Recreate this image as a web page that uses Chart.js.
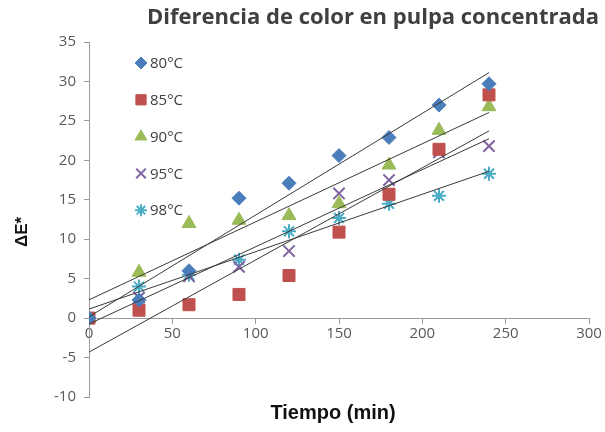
<!DOCTYPE html>
<html>
<head>
<meta charset="utf-8">
<script src="https://cdn.jsdelivr.net/npm/chart.js@4.4.1/dist/chart.umd.min.js"></script>
<style>
  html, body { margin: 0; padding: 0; background: #ffffff; }
  #wrap { position: relative; width: 605px; height: 432px; }
</style>
</head>
<body>
<div id="wrap"><canvas id="c" width="605" height="432"></canvas></div>
<script>
// ---- Data ----
const tiempos = [0, 30, 60, 90, 120, 150, 180, 210, 240];
const serie80 = [0, 2.3, 6.0, 15.2, 17.1, 20.6, 22.9, 27.0, 29.7];
const serie85 = [0, 1.0, 1.7, 3.0, 5.4, 10.9, 15.7, 21.4, 28.3];
const serie90 = [0, 5.8, 12.0, 12.4, 13.0, 14.5, 19.4, 23.8, 26.8];
const serie95 = [0, 2.6, 5.3, 6.5, 8.5, 15.8, 17.5, 21.0, 21.8];
const serie98 = [0, 4.0, 5.5, 7.4, 11.0, 12.7, 14.5, 15.5, 18.3];
const etiquetas = ['80°C', '85°C', '90°C', '95°C', '98°C'];
const xTicks = [0, 50, 100, 150, 200, 250, 300];
const yTicks = [-10, -5, 0, 5, 10, 15, 20, 25, 30, 35];
const tituloTexto = 'Diferencia de color en pulpa concentrada';
const tituloX = 'Tiempo (min)';
const tituloY = 'ΔE*';

const series = [serie80, serie85, serie90, serie95, serie98];
const colores = ['#4A7EBB', '#C0504D', '#9BBB59', '#8064A2', '#4BACC6'];
const estilos = ['rectRot', 'rect', 'triangle', 'crossRot', 'star'];
const radios = [7, 8.5, 8, 8, 7];
const bordes = [1, 1, 1, 2, 2];

function linFit(xs, ys) {
  const n = xs.length;
  const mx = xs.reduce((a, b) => a + b, 0) / n;
  const my = ys.reduce((a, b) => a + b, 0) / n;
  let sxy = 0, sxx = 0;
  for (let i = 0; i < n; i++) { sxy += (xs[i] - mx) * (ys[i] - my); sxx += (xs[i] - mx) ** 2; }
  const m = sxy / sxx;
  return { m, b: my - m * mx };
}

const datasets = [];
series.forEach((s, i) => {
  datasets.push({
    label: etiquetas[i],
    data: tiempos.map((t, k) => ({ x: t, y: s[k] })),
    showLine: false,
    pointStyle: estilos[i],
    pointRadius: radios[i],
    pointHoverRadius: radios[i],
    backgroundColor: colores[i],
    borderColor: colores[i],
    pointBorderWidth: bordes[i],
    order: 2
  });
});
series.forEach((s, i) => {
  const f = linFit(tiempos, s);
  const x0 = tiempos[0], x1 = tiempos[tiempos.length - 1];
  datasets.push({
    label: 'trend ' + etiquetas[i],
    data: [{ x: x0, y: f.m * x0 + f.b }, { x: x1, y: f.m * x1 + f.b }],
    showLine: true,
    borderColor: '#3a3a3a',
    borderWidth: 1,
    pointRadius: 0,
    fill: false,
    order: 0
  });
});

const legendPlugin = {
  id: 'insideLegend',
  afterDraw(chart) {
    const ctx = chart.ctx;
    const area = chart.chartArea;
    ctx.save();
    ctx.font = '15px "Open Sans"';
    ctx.textBaseline = 'middle';
    etiquetas.forEach((lab, i) => {
      const y = area.top + 21 + i * 36.8;
      const x = 141;
      ctx.fillStyle = colores[i];
      ctx.strokeStyle = colores[i];
      ctx.lineWidth = bordes[i];
      Chart.helpers.drawPoint(ctx, { pointStyle: estilos[i], radius: radios[i] * 0.85, rotation: 0, borderWidth: bordes[i] }, x, y);
      ctx.fillStyle = '#404040';
      ctx.fillText(lab, 150, y + 1);
    });
    ctx.restore();
  }
};

const textPlugin = {
  id: 'texts',
  afterDraw(chart) {
    const ctx = chart.ctx;
    const area = chart.chartArea;
    ctx.save();
    // main title
    ctx.font = 'bold 22px "Open Sans"';
    ctx.fillStyle = '#404040';
    ctx.textAlign = 'right';
    ctx.textBaseline = 'middle';
    ctx.fillText(tituloTexto, 599, 18);
    // x title
    ctx.font = 'bold 20px "Liberation Sans"';
    ctx.fillStyle = '#111111';
    ctx.textAlign = 'center';
    ctx.fillText(tituloX, (area.left + area.right) / 2 - 6, 413);
    // y title
    ctx.translate(22, 232);
    ctx.rotate(-Math.PI / 2);
    ctx.font = 'bold 17px "Liberation Sans"';
    ctx.fillText(tituloY, 0, 0);
    ctx.restore();
  }
};

new Chart(document.getElementById('c'), {
  type: 'scatter',
  data: { datasets },
  plugins: [legendPlugin, textPlugin],
  options: {
    responsive: false,
    animation: false,
    layout: { padding: { left: 0, right: 16, top: 42, bottom: 35 } },
    plugins: {
      legend: { display: false },
      tooltip: { enabled: false },
      title: { display: false }
    },
    scales: {
      x: {
        type: 'linear',
        position: { y: 0 },
        min: 0, max: 300,
        afterBuildTicks: (s) => { s.ticks = xTicks.map(v => ({ value: v })); },
        ticks: { color: '#595959', font: { family: 'Open Sans', size: 15 }, padding: 2 },
        grid: { drawOnChartArea: false, tickLength: 5, color: '#9a9a9a' },
        border: { color: '#9a9a9a' }
      },
      y: {
        type: 'linear',
        min: -10, max: 35,
        afterBuildTicks: (s) => { s.ticks = yTicks.map(v => ({ value: v })); },
        afterFit: (s) => { s.width = 89; },
        ticks: { color: '#595959', font: { family: 'Open Sans', size: 15 }, padding: 8 },
        grid: { drawOnChartArea: false, tickLength: 5, color: '#9a9a9a' },
        border: { color: '#9a9a9a' }
      }
    }
  }
});
</script>
</body>
</html>
